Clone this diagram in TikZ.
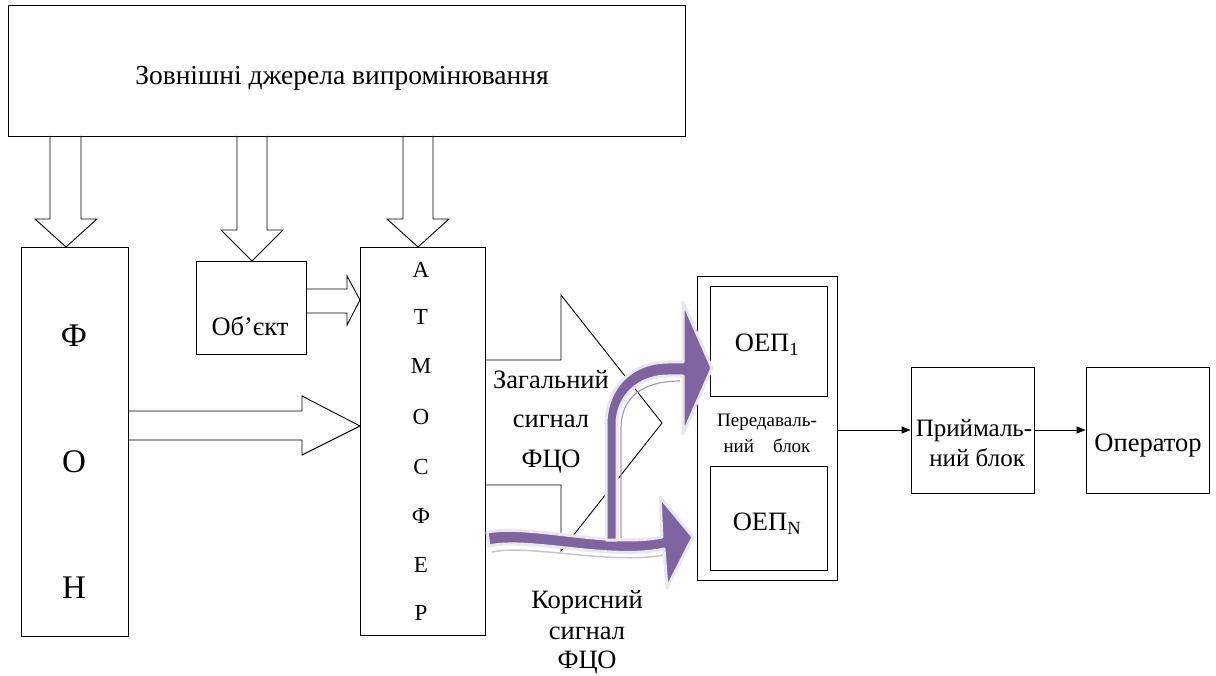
\documentclass[tikz,border=0pt]{standalone}
\usepackage{fontspec}
\setmainfont{Liberation Serif}
\newfontfamily\tnr{Liberation Serif}
\usetikzlibrary{arrows.meta}
\definecolor{purp}{RGB}{128,100,162}
\definecolor{purplight}{RGB}{170,150,200}
\definecolor{glow}{RGB}{232,232,236}
\begin{document}
\begin{tikzpicture}[x=1pt,y=-1pt,line width=0.9pt,
  box/.style={draw=black,inner sep=0pt},
  hollow/.style={draw=black,line width=0.9pt,line join=miter},
  txt/.style={inner sep=0pt,font=\tnr\fontsize{26.5}{30}\selectfont},
  big/.style={inner sep=0pt,font=\tnr\fontsize{33}{36}\selectfont},
  atmo/.style={inner sep=0pt,font=\tnr\fontsize{23}{26}\selectfont},
  small/.style={inner sep=0pt,align=center,font=\tnr\fontsize{19}{26}\selectfont},
  thin/.style={line width=0.9pt,-{Triangle[length=9pt,width=7pt]}},
  band/.style={fill=purp,draw=glow,line width=3pt,line join=round}]
\useasboundingbox (0,0) rectangle (1216,676);

% boxes
\node[box,minimum width=677pt,minimum height=131pt] (src) at (346.5,70.5) {};
\node[box,minimum width=107pt,minimum height=389pt] (fon) at (74.5,441.5) {};
\node[box,minimum width=110pt,minimum height=93pt] (obj) at (251,307.5) {};
\node[box,minimum width=125pt,minimum height=388pt] (atm) at (422.5,441) {};
\node[box,minimum width=140pt,minimum height=304pt] (tx) at (767,428) {};
\node[box,minimum width=117pt,minimum height=110pt] (oep1) at (768.5,341) {};
\node[box,minimum width=117pt,minimum height=104pt] (oepn) at (768.5,518) {};
\node[box,minimum width=123pt,minimum height=126pt] (rx) at (972.5,430) {};
\node[box,minimum width=123pt,minimum height=126pt] (op) at (1147.5,430) {};

% hollow arrows from the sources
\draw[hollow] (50,136) -- (50,219) -- (35,219) -- (66,247) -- (97,219) -- (81,219) -- (81,136);
\draw[hollow] (237,136) -- (237,230) -- (221,230) -- (252,261) -- (283,230) -- (267,230) -- (267,136);
\draw[hollow] (403,136) -- (403,219) -- (387,219) -- (418,247) -- (449,219) -- (433,219) -- (433,136);
% object -> atmosphere
\draw[hollow] (306,289) -- (347,289) -- (347,276) -- (360,300) -- (347,325) -- (347,313) -- (306,313);
% background -> atmosphere
\draw[hollow] (128,411) -- (302,411) -- (302,396) -- (360,426) -- (302,455) -- (302,440) -- (128,440);
% total signal
\draw[hollow] (485,360) -- (561,360) -- (561,295) -- (662,423) -- (561,551) -- (561,485) -- (485,485);

% texts
\node[txt,font=\tnr\fontsize{27.5}{30}\selectfont] (srcT) at (342,78) {Зовнішні джерела випромінювання};
\node[big] (f1) at (74,336) {Ф};
\node[big] (f2) at (74,462) {О};
\node[big] (f3) at (74,588) {Н};
\node[txt] (objT) at (250,326) {Об’єкт};
\foreach \l/\yy [count=\i] in {А/270,Т/317,М/366,О/417,С/467,Ф/516,Е/565,Р/613}
  \node[atmo] (a\i) at (421,\yy) {\l};
\node[txt] (g1) at (551,380) {Загальний};
\node[txt] (g2) at (551,421) {сигнал};
\node[txt] (g3) at (551,462) {ФЦО};
\node[txt] (k1) at (587,602) {Корисний};
\node[txt] (k2) at (587,633) {сигнал};
\node[txt] (k3) at (587,663) {ФЦО};
\node[txt] (oep1T) at (767,345) {ОЕП\textsubscript{1}};
\node[txt] (oepnT) at (767,524) {ОЕП\textsubscript{N}};
\node[small] (txT) at (767,433) {Передаваль-\\ний\quad блок};
\node[txt,align=center,font=\tnr\fontsize{25}{30}\selectfont] (rxT) at (974,443) {Приймаль-\\\ ний блок};
\node[txt] (opT) at (1148,446) {Оператор};

% thin arrows
\draw[thin] (rx.west -| tx.east) -- (rx.west);
\draw[thin] (rx.east) -- (op.west);

% purple wave arrow (useful signal)
\draw[gray!45,line width=1.5pt] (492,552) .. controls (530,544) and (610,565) .. (664,555);
\path[band] (487,532) .. controls (530,524) and (610,548) .. (662,537)
  -- (660,497) -- (693,537) -- (667,588) -- (664,549)
  .. controls (610,561) and (530,537) .. (489,546) -- cycle;
% purple bent arrow (total signal)
\path[band] (606,540) -- (606,425) .. controls (606,387) and (632,362) .. (668,362)
  -- (683,362) -- (683,302) -- (712,368) -- (683,434) -- (683,376) -- (668,376)
  .. controls (640,376) and (617,395) .. (617,425) -- (617,540) -- cycle;
\draw[purplight,line width=1.2pt] (621,538) -- (621,428) .. controls (621,398) and (642,381) .. (680,381);
\end{tikzpicture}
\end{document}
